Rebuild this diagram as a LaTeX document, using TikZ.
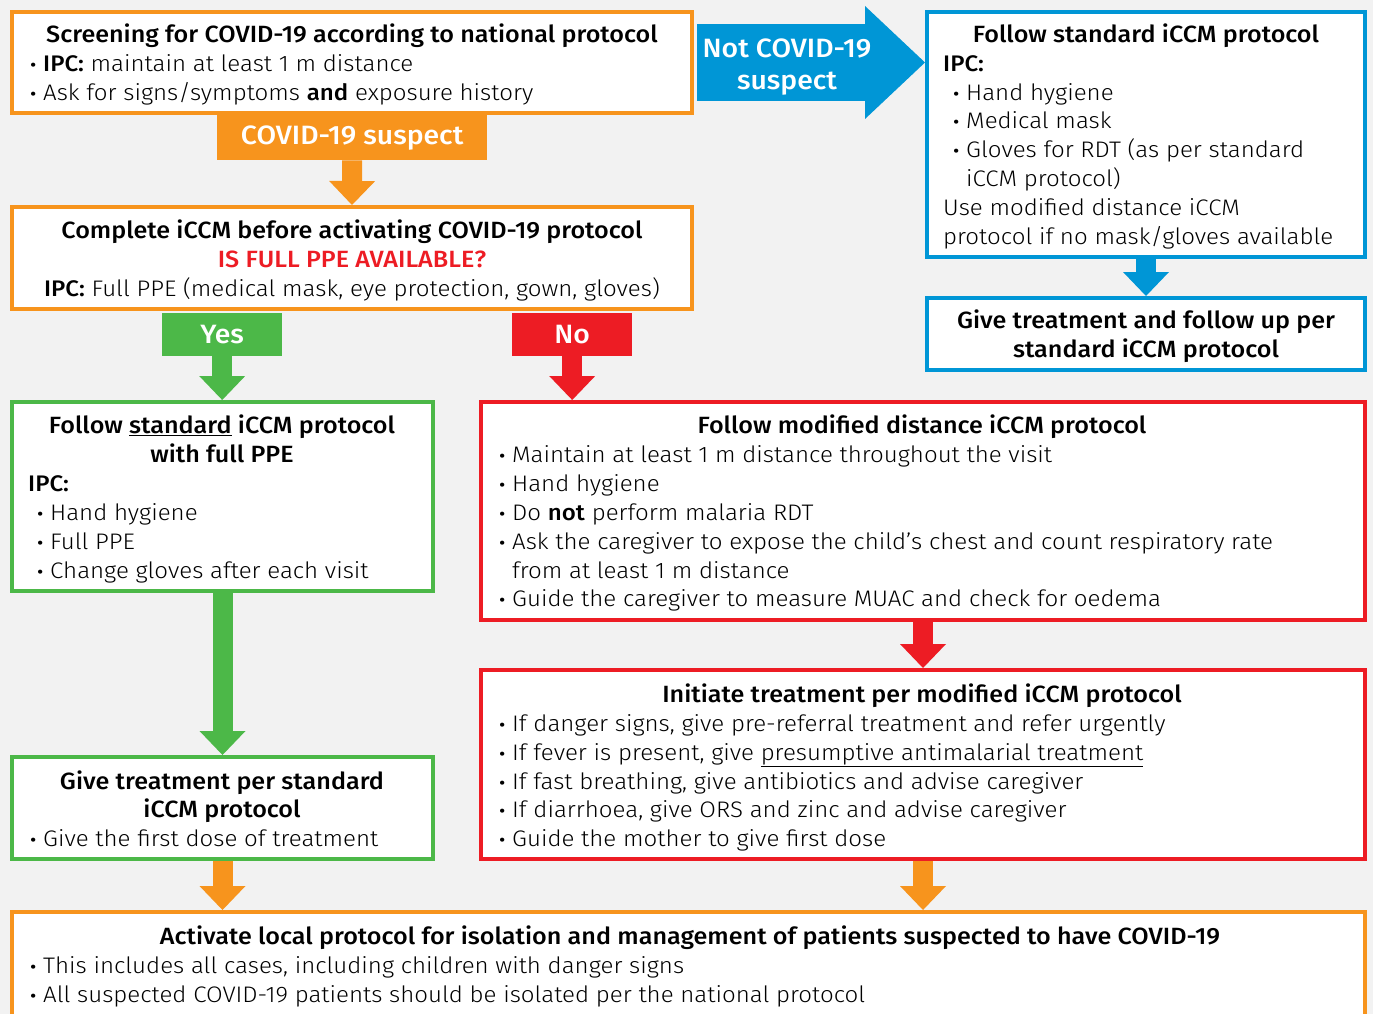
\documentclass[tikz,border=0pt]{standalone}
\usepackage{fontspec}
\setmainfont{Fira Sans}[UprightFont=* Light, BoldFont=* Medium, FakeStretch=1.07]
\usetikzlibrary{arrows.meta}
\definecolor{orc}{RGB}{247,148,29}
\definecolor{blc}{RGB}{0,150,214}
\definecolor{grc}{RGB}{76,184,72}
\definecolor{rdc}{RGB}{237,28,36}
\definecolor{bgc}{RGB}{242,242,242}
\newcommand\bul{\makebox[14pt][l]{\raisebox{-0.12em}{\scalebox{1.2}{\textbullet}}}}
\begin{document}
\begin{tikzpicture}[x=1pt,y=-1pt,
  box/.style={draw=#1, line width=4pt, fill=white, inner sep=0pt, outer sep=2pt, anchor=north west},
  lab/.style={fill=#1, text=white, inner sep=0pt, anchor=north west, font=\fontsize{26.5}{30}\selectfont\bfseries},
  tx/.style={inner sep=0pt, font=\fontsize{22.5}{29}\selectfont, anchor=mid west, yshift=-4pt},
  tb/.style={inner sep=0pt, font=\fontsize{23.5}{29}\selectfont\bfseries, anchor=mid, yshift=-4pt},
  barrow/.style={draw=#1, line width=20pt, -{Triangle[width=46pt,length=24pt,line width=0pt]}},
]
\fill[bgc] (0,0) rectangle (1373,1014);
\useasboundingbox (0,0) rectangle (1373,1014);

% boxes
\node[box=orc, minimum width=680pt, minimum height=101pt] (b1) at (10,10) {};
\node[lab=orc, minimum width=270pt, minimum height=45pt] (sus) at (217,115) {COVID-19 suspect};
\node[box=orc, minimum width=680pt, minimum height=102pt] (b2) at (10,205) {};
\node[lab=grc, minimum width=120pt, minimum height=43pt] (yes) at (162,313) {Yes};
\node[lab=rdc, minimum width=120pt, minimum height=43pt] (no) at (512,313) {No};
\node[box=blc, minimum width=438pt, minimum height=245pt] (bb1) at (925,10) {};
\node[box=blc, minimum width=438pt, minimum height=72pt] (bb2) at (925,296) {};
\node[box=grc, minimum width=421pt, minimum height=189pt] (g1) at (10,400) {};
\node[box=grc, minimum width=421pt, minimum height=102pt] (g2) at (10,755) {};
\node[box=rdc, minimum width=884pt, minimum height=218pt] (r1) at (479,400) {};
\node[box=rdc, minimum width=884pt, minimum height=189pt] (r2) at (479,668) {};
\node[box=orc, minimum width=1353pt, minimum height=130pt] (bot) at (10,910) {};

% connectors
\draw[blc, line width=77pt, -{Triangle[width=113pt,length=60pt,line width=0pt]}] ([xshift=3pt]b1.east) -- (bb1.west |- b1.east);
\node[inner sep=0pt, text=white, align=center, font=\fontsize{26.5}{32}\selectfont\bfseries] (nc) at (787,67) {Not COVID-19\\suspect};
\draw[barrow=orc] (sus.south) -- (b2.north);
\draw[barrow=grc] (yes.south) -- (yes.south |- g1.north);
\draw[barrow=rdc] (no.south) -- (no.south |- r1.north);
\draw[barrow=blc] (bb1.south) -- (bb2.north);
\draw[barrow=grc] (g1.south) -- (g2.north);
\draw[barrow=rdc] (r1.south) -- (r2.north);
\draw[barrow=orc] (g2.south) -- (g2.south |- bot.north);
\draw[barrow=orc] (r2.south) -- (r2.south |- bot.north);

% box 1 text
\node[tb] (b1t) at (352,36) {Screening for COVID-19 according to national protocol};
\node[tx] (b1a) at (29,65) {\bul\textbf{IPC:} maintain at least 1 m distance};
\node[tx] (b1b) at (29,94) {\bul Ask for signs/symptoms \textbf{and} exposure history};

% box 2 text
\node[tb] (b2t) at (352,232) {Complete iCCM before activating COVID-19 protocol};
\node[tb, text=rdc] (b2r) at (352,261) {IS FULL PPE AVAILABLE?};
\node[tx, anchor=mid] (b2c) at (352,290) {\textbf{IPC:} Full PPE (medical mask, eye protection, gown, gloves)};

% blue box 1
\node[tb] (bbt) at (1146,36) {Follow standard iCCM protocol};
\node[tx] (bba) at (943,65) {\textbf{IPC:}};
\node[tx] (bbb) at (952,94) {\bul Hand hygiene};
\node[tx] (bbc) at (952,122) {\bul Medical mask};
\node[tx] (bbd) at (952,151) {\bul Gloves for RDT (as per standard};
\node[tx] (bbe) at (966,180) {iCCM protocol)};
\node[tx] (bbf) at (943,209) {Use modified distance iCCM};
\node[tx] (bbg) at (943,238) {protocol if no mask/gloves available};

% blue box 2
\node[tb] (bb2a) at (1146,322) {Give treatment and follow up per};
\node[tb] (bb2b) at (1146,351) {standard iCCM protocol};

% green box 1
\node[tb] (g1t) at (222,427) {Follow \underline{standard} iCCM protocol};
\node[tb] (g1u) at (222,456) {with full PPE};
\node[tx] (g1a) at (28,485) {\textbf{IPC:}};
\node[tx] (g1b) at (36,514) {\bul Hand hygiene};
\node[tx] (g1c) at (36,543) {\bul Full PPE};
\node[tx] (g1d) at (36,572) {\bul Change gloves after each visit};

% green box 2
\node[tb] (g2t) at (222,783) {Give treatment per standard};
\node[tb] (g2u) at (222,811) {iCCM protocol};
\node[tx] (g2a) at (29,840) {\bul Give the first dose of treatment};

% red box 1
\node[tb] (r1t) at (922,427) {Follow modified distance iCCM protocol};
\node[tx] (r1a) at (498,456) {\bul Maintain at least 1 m distance throughout the visit};
\node[tx] (r1b) at (498,485) {\bul Hand hygiene};
\node[tx] (r1c) at (498,514) {\bul Do \textbf{not} perform malaria RDT};
\node[tx] (r1d) at (498,543) {\bul Ask the caregiver to expose the child's chest and count respiratory rate};
\node[tx] (r1e) at (512,572) {from at least 1 m distance};
\node[tx] (r1f) at (498,600) {\bul Guide the caregiver to measure MUAC and check for oedema};

% red box 2
\node[tb] (r2t) at (922,696) {Initiate treatment per modified iCCM protocol};
\node[tx] (r2a) at (498,725) {\bul If danger signs, give pre-referral treatment and refer urgently};
\node[tx] (r2b) at (498,754) {\bul If fever is present, give \underline{presumptive antimalarial treatment}};
\node[tx] (r2c) at (498,783) {\bul If fast breathing, give antibiotics and advise caregiver};
\node[tx] (r2d) at (498,811) {\bul If diarrhoea, give ORS and zinc and advise caregiver};
\node[tx] (r2e) at (498,840) {\bul Guide the mother to give first dose};

% bottom box
\node[tb] (bt) at (690,938) {Activate local protocol for isolation and management of patients suspected to have COVID-19};
\node[tx] (ba) at (29,967) {\bul This includes all cases, including children with danger signs};
\node[tx] (bb) at (29,996) {\bul All suspected COVID-19 patients should be isolated per the national protocol};
\end{tikzpicture}
\end{document}
